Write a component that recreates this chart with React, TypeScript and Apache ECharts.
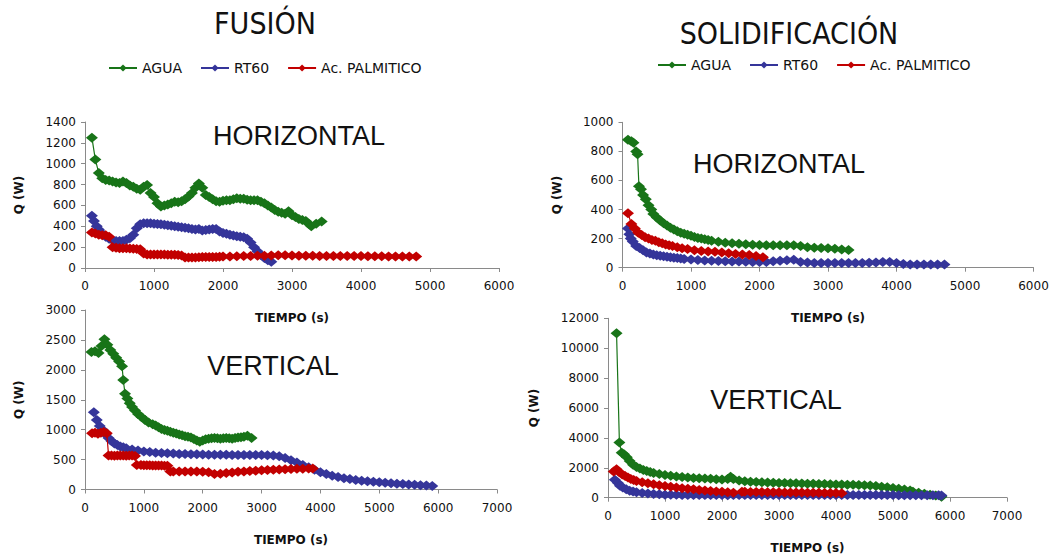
import React, { useEffect, useRef } from "react";
import * as echarts from "echarts";

// ---------- DATA ----------
const seriesNames = ["AGUA", "RT60", "Ac. PALMITICO"];

// FUSIÓN - HORIZONTAL  [tiempo s, Q W]
const fusHorAgua = [[100,1250],[150,1040],[200,910],[250,860],[300,845],[350,840],[400,830],[450,820],[500,815],[550,830],[600,815],[650,790],[700,780],[750,760],[800,750],[850,780],[900,795],[950,720],[1000,680],[1050,620],[1100,590],[1150,600],[1200,610],[1250,620],[1300,635],[1350,630],[1400,640],[1450,660],[1500,685],[1550,720],[1600,770],[1650,810],[1700,770],[1750,700],[1800,680],[1850,660],[1900,640],[1950,635],[2000,645],[2050,650],[2100,650],[2150,660],[2200,670],[2250,665],[2300,665],[2350,655],[2400,650],[2450,650],[2500,650],[2550,635],[2600,620],[2650,600],[2700,580],[2750,556],[2800,540],[2850,530],[2900,520],[2950,545],[3000,505],[3050,490],[3100,470],[3150,460],[3200,450],[3250,420],[3280,400],[3350,425],[3430,445]];
const fusHorRT60 = [[100,500],[130,450],[170,400],[200,370],[250,330],[300,300],[350,280],[400,265],[450,260],[500,260],[550,260],[600,270],[650,285],[700,320],[750,380],[800,420],[850,430],[900,430],[950,428],[1000,425],[1050,422],[1100,420],[1150,415],[1200,410],[1250,405],[1300,400],[1350,395],[1400,390],[1450,385],[1500,380],[1550,375],[1600,370],[1650,375],[1700,360],[1750,365],[1800,370],[1850,375],[1900,375],[1950,350],[2000,335],[2050,328],[2100,320],[2150,312],[2200,305],[2250,300],[2300,295],[2350,280],[2400,245],[2450,200],[2500,160],[2550,125],[2600,95],[2650,75],[2700,60]];
const fusHorPalm = [[100,340],[150,330],[200,320],[250,315],[300,315],[350,300],[400,200],[450,195],[500,190],[550,190],[600,190],[650,188],[700,185],[750,182],[800,180],[850,140],[900,130],[950,130],[1000,130],[1050,130],[1100,130],[1150,130],[1200,128],[1250,128],[1300,128],[1350,125],[1400,120],[1450,100],[1500,100],[1550,100],[1600,100],[1650,102],[1700,105],[1750,105],[1800,105],[1850,105],[1900,105],[1950,108],[2000,110],[2100,110],[2200,112],[2300,115],[2400,115],[2500,118],[2600,118],[2700,120],[2800,122],[2900,122],[3000,120],[3100,118],[3200,118],[3300,118],[3400,116],[3500,116],[3600,115],[3700,115],[3800,116],[3900,115],[4000,114],[4100,113],[4200,112],[4300,112],[4400,111],[4500,110],[4600,110],[4700,110],[4800,110]];

// FUSIÓN - VERTICAL
const fusVerAgua = [[110,2300],[170,2310],[230,2280],[280,2400],[330,2510],[380,2420],[430,2330],[480,2270],[530,2200],[580,2140],[630,2060],[650,1830],[680,1600],[720,1520],[760,1440],[800,1380],[850,1320],[900,1260],[960,1210],[1020,1160],[1080,1120],[1150,1090],[1200,1070],[1250,1040],[1300,1010],[1350,995],[1400,980],[1450,965],[1500,950],[1550,935],[1600,920],[1650,905],[1700,890],[1750,880],[1800,870],[1850,845],[1900,820],[1950,800],[2000,820],[2050,840],[2100,850],[2150,855],[2200,860],[2250,855],[2300,850],[2350,855],[2400,860],[2450,855],[2500,850],[2550,860],[2600,870],[2650,875],[2700,880],[2760,900],[2830,860]];
const fusVerRT60 = [[150,1290],[200,1160],[250,1060],[300,1000],[350,920],[400,860],[450,810],[500,770],[550,745],[600,720],[650,705],[700,690],[800,670],[900,650],[1000,635],[1100,625],[1200,615],[1300,610],[1400,605],[1500,600],[1600,595],[1700,592],[1800,590],[1900,588],[2000,585],[2100,582],[2200,580],[2300,580],[2400,580],[2500,578],[2600,575],[2700,575],[2800,575],[2900,575],[3000,575],[3100,572],[3200,570],[3300,555],[3400,525],[3500,490],[3600,450],[3700,410],[3800,370],[3900,330],[4000,290],[4100,260],[4200,230],[4300,210],[4400,190],[4500,175],[4600,160],[4700,148],[4800,138],[4900,128],[5000,120],[5100,112],[5200,105],[5300,98],[5400,92],[5500,85],[5600,78],[5700,72],[5800,65],[5900,60]];
const fusVerPalm = [[120,940],[170,950],[220,930],[270,950],[320,960],[370,940],[400,570],[450,570],[500,565],[550,568],[600,570],[650,568],[700,565],[750,568],[800,570],[850,560],[880,410],[950,410],[1000,405],[1050,405],[1100,405],[1150,402],[1200,400],[1250,400],[1300,400],[1350,398],[1400,395],[1450,300],[1500,300],[1600,300],[1700,300],[1800,300],[1900,300],[2000,295],[2100,290],[2200,260],[2300,265],[2400,275],[2500,285],[2600,295],[2700,300],[2800,310],[2900,315],[3000,320],[3100,325],[3200,330],[3300,335],[3400,340],[3500,342],[3600,345],[3700,348],[3800,350],[3870,350]];

// SOLIDIFICACIÓN - HORIZONTAL
const solHorAgua = [[80,880],[130,870],[160,860],[200,800],[220,780],[240,560],[270,540],[300,500],[340,470],[380,430],[420,400],[450,370],[500,345],[550,325],[600,305],[650,290],[700,275],[750,262],[800,250],[850,240],[900,233],[950,226],[1000,220],[1050,212],[1100,205],[1150,200],[1200,195],[1250,190],[1300,185],[1400,178],[1500,172],[1600,168],[1700,165],[1800,162],[1900,158],[2000,156],[2100,155],[2200,155],[2300,155],[2400,155],[2500,155],[2600,150],[2700,140],[2800,138],[2900,136],[3000,134],[3100,130],[3200,125],[3300,122]];
const solHorRT60 = [[80,270],[100,230],[120,200],[150,180],[200,150],[250,135],[300,120],[350,105],[400,98],[450,90],[500,85],[550,82],[600,78],[650,75],[700,72],[750,69],[800,66],[850,63],[900,60],[1000,56],[1100,53],[1200,50],[1300,48],[1400,46],[1500,44],[1600,43],[1700,42],[1800,41],[1900,40],[2000,40],[2100,40],[2200,45],[2300,48],[2400,52],[2500,55],[2600,40],[2700,35],[2800,33],[2900,32],[3000,32],[3100,32],[3200,32],[3300,32],[3400,32],[3500,33],[3600,34],[3700,36],[3800,40],[3900,40],[4000,32],[4100,25],[4200,22],[4300,22],[4400,22],[4500,22],[4600,22],[4700,22]];
const solHorPalm = [[80,375],[130,300],[180,270],[230,240],[280,225],[330,210],[380,200],[430,190],[480,185],[530,175],[580,168],[630,160],[680,155],[730,150],[800,140],[870,133],[950,128],[1050,120],[1150,115],[1250,112],[1350,110],[1450,105],[1550,100],[1650,95],[1750,90],[1850,87],[1950,80],[2050,72]];

// SOLIDIFICACIÓN - VERTICAL
const solVerAgua = [[150,11000],[200,3700],[240,3000],[280,2900],[330,2700],[380,2450],[440,2200],[500,2050],[560,1950],[620,1850],[680,1780],[740,1720],[800,1660],[900,1580],[1000,1520],[1100,1470],[1200,1420],[1300,1380],[1400,1350],[1500,1320],[1600,1300],[1700,1280],[1800,1260],[1900,1240],[2000,1220],[2100,1250],[2150,1400],[2200,1250],[2300,1150],[2400,1100],[2500,1070],[2600,1050],[2700,1030],[2800,1010],[2900,1000],[3000,990],[3100,980],[3200,970],[3300,960],[3400,950],[3500,940],[3600,930],[3700,920],[3800,910],[3900,900],[4000,890],[4100,880],[4200,870],[4300,860],[4400,850],[4500,830],[4600,810],[4700,780],[4800,740],[4900,700],[5000,650],[5100,600],[5200,550],[5300,480],[5350,400],[5450,330],[5550,260],[5650,200],[5750,140],[5850,60]];
const solVerRT60 = [[120,1200],[170,1000],[210,800],[260,680],[320,560],[380,470],[440,410],[500,370],[600,320],[700,280],[800,250],[900,225],[1000,205],[1100,195],[1200,190],[1300,185],[1400,180],[1500,180],[1600,178],[1700,176],[1800,175],[1900,174],[2000,173],[2100,172],[2200,175],[2300,180],[2400,185],[2500,185],[2600,185],[2700,185],[2800,185],[2900,185],[3000,185],[3100,185],[3200,185],[3300,185],[3400,185],[3500,185],[3600,185],[3700,185],[3800,185],[3900,185],[4000,185],[4100,185],[4200,185],[4300,183],[4400,182],[4500,180],[4600,180],[4700,178],[4800,176],[4900,175],[5000,173],[5100,172],[5200,170],[5300,168],[5400,166],[5500,164],[5600,162],[5700,160],[5800,158],[5850,150]];
const solVerPalm = [[100,1750],[150,1900],[200,1700],[250,1550],[300,1450],[350,1350],[400,1250],[450,1180],[500,1120],[600,1030],[700,960],[800,900],[900,840],[1000,790],[1100,740],[1200,690],[1300,640],[1400,600],[1500,560],[1600,520],[1700,480],[1800,450],[1900,420],[2000,390],[2100,360],[2200,330],[2350,400],[2400,390],[2500,385],[2600,380],[2700,375],[2800,370],[2900,365],[3000,360],[3100,355],[3200,350],[3300,345],[3400,340],[3500,335],[3600,330],[3700,325],[3800,320],[3900,315],[4000,310],[4100,300]];

const COLORS = ["#187418", "#35359a", "#c20000"];

const panels = [
  { grid: { left: 85, top: 122, width: 414, height: 146 }, xMax: 6000, xInt: 1000, yMax: 1400, yInt: 200, nameGapY: 60, data: [fusHorAgua, fusHorRT60, fusHorPalm] },
  { grid: { left: 85, top: 310, width: 412, height: 179.5 }, xMax: 7000, xInt: 1000, yMax: 3000, yInt: 500, nameGapY: 60, data: [fusVerAgua, fusVerRT60, fusVerPalm] },
  { grid: { left: 622.5, top: 122.3, width: 411, height: 145.4 }, xMax: 6000, xInt: 1000, yMax: 1000, yInt: 200, nameGapY: 60, data: [solHorAgua, solHorRT60, solHorPalm] },
  { grid: { left: 608, top: 318.3, width: 399, height: 179.4 }, xMax: 7000, xInt: 1000, yMax: 12000, yInt: 2000, nameGapY: 68, data: [solVerAgua, solVerRT60, solVerPalm] },
];

const tickFont = "DejaVu Sans, Arial, sans-serif";
const narrowFont = "Liberation Sans Narrow, Arial Narrow, DejaVu Sans Condensed, sans-serif";
const bodyFont = "Liberation Sans, Arial, sans-serif";

export default function App() {
  const ref = useRef<HTMLDivElement>(null);
  useEffect(() => {
    if (!ref.current) return;
    const chart = echarts.init(ref.current, undefined, { renderer: "svg" });
    const axisLineStyle = { color: "#8a8a8a", width: 1 };
    const legendBase = {
      data: seriesNames,
      itemWidth: 28,
      itemHeight: 9,
      itemGap: 18,
      textStyle: { fontFamily: tickFont, fontSize: 14, color: "#111" },
    };
    const option: any = {
      animation: false,
      backgroundColor: "#ffffff",
      color: COLORS,
      grid: panels.map((p) => ({ ...p.grid, containLabel: false })),
      xAxis: panels.map((p, i) => ({
        type: "value",
        gridIndex: i,
        min: 0,
        max: p.xMax,
        interval: p.xInt,
        name: "TIEMPO (s)",
        nameLocation: "middle",
        nameGap: 44,
        nameTextStyle: { fontFamily: tickFont, fontWeight: "bold", fontSize: 12, color: "#111" },
        axisLine: { show: true, lineStyle: axisLineStyle },
        axisTick: { show: true, length: 4, lineStyle: axisLineStyle },
        axisLabel: { fontFamily: tickFont, fontSize: 12, color: "#111", margin: 12, formatter: (v: number) => String(v) },
        splitLine: { show: false },
      })),
      yAxis: panels.map((p, i) => ({
        type: "value",
        gridIndex: i,
        min: 0,
        max: p.yMax,
        interval: p.yInt,
        name: "Q (W)",
        nameLocation: "middle",
        nameGap: p.nameGapY,
        nameTextStyle: { fontFamily: tickFont, fontWeight: "bold", fontSize: 12, color: "#111" },
        axisLine: { show: true, lineStyle: axisLineStyle },
        axisTick: { show: true, length: 4, lineStyle: axisLineStyle },
        axisLabel: { fontFamily: tickFont, fontSize: 12, color: "#111", margin: 9, formatter: (v: number) => String(v) },
        splitLine: { show: false },
      })),
      legend: [
        { ...legendBase, left: 103, top: 56 },
        { ...legendBase, left: 652, top: 53 },
      ],
      series: panels.flatMap((p, i) =>
        p.data.map((d, k) => ({
          name: seriesNames[k],
          type: "line",
          xAxisIndex: i,
          yAxisIndex: i,
          data: d,
          symbol: "diamond",
          symbolSize: [12, 10],
          showAllSymbol: true,
          lineStyle: { width: 1.2, color: COLORS[k] },
          itemStyle: { color: COLORS[k] },
          z: 2 + k,
        }))
      ),
      graphic: [
        { type: "text", x: 265, y: 23, style: { text: "FUSIÓN", font: `30px ${narrowFont}`, fill: "#111", textAlign: "center", textVerticalAlign: "middle" } },
        { type: "text", x: 789, y: 33, style: { text: "SOLIDIFICACIÓN", font: `30px ${narrowFont}`, fill: "#111", textAlign: "center", textVerticalAlign: "middle" } },
        { type: "text", x: 299, y: 136, style: { text: "HORIZONTAL", font: `27px ${bodyFont}`, fill: "#111", textAlign: "center", textVerticalAlign: "middle" } },
        { type: "text", x: 779, y: 164, style: { text: "HORIZONTAL", font: `27px ${bodyFont}`, fill: "#111", textAlign: "center", textVerticalAlign: "middle" } },
        { type: "text", x: 273, y: 366, style: { text: "VERTICAL", font: `27px ${bodyFont}`, fill: "#111", textAlign: "center", textVerticalAlign: "middle" } },
        { type: "text", x: 776, y: 400, style: { text: "VERTICAL", font: `27px ${bodyFont}`, fill: "#111", textAlign: "center", textVerticalAlign: "middle" } },
      ],
    };
    chart.setOption(option);
    return () => chart.dispose();
  }, []);
  return (
    <div
      ref={ref}
      style={{ position: "absolute", left: 0, top: 0, width: 1053, height: 556, background: "#fff" }}
    />
  );
}
